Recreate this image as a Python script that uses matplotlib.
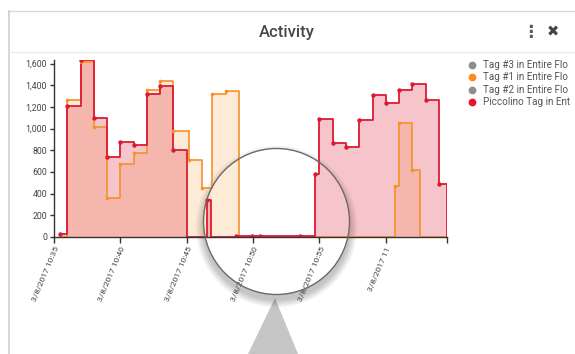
import matplotlib
matplotlib.use("Agg")
import matplotlib.pyplot as plt
import matplotlib.dates as mdates
from matplotlib.patches import Circle, Polygon
import numpy as np
import pandas as pd

plt.rcParams['font.family'] = ['Roboto', 'DejaVu Sans']

# ---------------- data ----------------
DAY = "2017-03-08 "
red_times = ["10:35:25", "10:36:00", "10:37:00", "10:38:00", "10:39:00", "10:40:00",
             "10:41:00", "10:42:00", "10:43:00", "10:44:00", "10:45:00", "10:46:30",
             "10:46:52", "10:48:41", "10:49:56", "10:50:31", "10:53:32", "10:54:40",
             "10:55:00", "10:56:00", "10:57:00", "10:58:00", "10:59:00", "11:00:00",
             "11:01:00", "11:02:00", "11:03:00", "11:04:00", "11:04:38"]
red_values = [30, 1210, 1630, 1100, 735, 875,
              850, 1315, 1395, 805, 0, 345,
              0, 5, 8, 12, 6, 585,
              1092, 871, 831, 1077, 1314, 1237,
              1354, 1415, 1268, 493, 0]

orange_times = ["10:35:25", "10:36:00", "10:37:00", "10:38:00", "10:39:00", "10:40:00",
                "10:41:00", "10:42:00", "10:43:00", "10:44:00", "10:45:09", "10:46:07",
                "10:46:55", "10:47:56", "10:48:57", "11:00:40", "11:01:00", "11:02:00",
                "11:02:35", "11:04:38"]
orange_values = [0, 1268, 1615, 1015, 360, 677,
                 775, 1360, 1437, 982, 714, 452,
                 1323, 1348, 0, 468, 1052, 615,
                 0, 0]

x_start = "10:35:00"
x_end = "11:04:38"
tick_times = ["10:35:00", "10:40:00", "10:45:00", "10:50:00", "10:55:00", "11:00:00"]
tick_labels = ["3/8/2017 10:35", "3/8/2017 10:40", "3/8/2017 10:45",
               "3/8/2017 10:50", "3/8/2017 10:55", "3/8/2017 11"]
y_ticks = [0, 200, 400, 600, 800, 1000, 1200, 1400, 1600]
y_max = 1635

# legend labels as they appear (cut off by the panel edge)
legend_names = ["Tag #3 in Entire Flo", "Tag #1 in Entire Flo",
                "Tag #2 in Entire Flo", "Piccolino Tag in Ent"]
legend_colors = ["#8e8e8e", "#ff8c1a", "#8e8e8e", "#e3162f"]
title = "Activity"

RED = "#dd1a33"
ORANGE = "#f59226"


def to_num(ts):
    return mdates.date2num(pd.to_datetime([DAY + t for t in ts]).to_pydatetime())


rt, rv = to_num(red_times), np.array(red_values, float)
ot, ov = to_num(orange_times), np.array(orange_values, float)

# ---------------- figure ----------------
W, H = 575, 354
fig = plt.figure(figsize=(W / 100, H / 100), dpi=100, facecolor="white")

# background / decoration layer in pixel coordinates
bg = fig.add_axes([0, 0, 1, 1], zorder=0)
bg.set_xlim(0, W)
bg.set_ylim(H, 0)
bg.axis("off")

# card borders
bg.plot([8, W], [11, 11], color="#d9d9d9", lw=1)
bg.plot([8.5, 8.5], [11, H], color="#cfcfcf", lw=1.2)
bg.plot([9, W], [52, 52], color="#ececec", lw=1)

bg.text(287, 32, title, ha="center", va="center", fontsize=12,
        fontweight="medium", color="#474747")
bg.text(530, 32, "\u22ee", ha="center", va="center", fontsize=12,
        fontweight="bold", color="#555555", family="DejaVu Sans")
bg.text(553, 32, "\u2716", ha="center", va="center", fontsize=10.5,
        color="#444444", family="DejaVu Sans")

# legend
for i, (name, col) in enumerate(zip(legend_names, legend_colors)):
    yy = 65 + i * 12.3
    bg.plot(472, yy, "o", ms=5.6, color=col, mec="none")
    bg.text(483, yy, name, ha="left", va="center", fontsize=7.1,
            color="#555555")

# magnifier shadow + white lens + pointer
cx, cy, cr = 276.5, 221.5, 73
for k in range(10, 0, -1):
    bg.add_patch(Circle((cx, cy + 5), cr + k * 0.8, color="#000000",
                        alpha=0.022, lw=0))
bg.add_patch(Circle((cx, cy), cr, color="white", lw=0))
bg.add_patch(Polygon([[275, 298], [248, H], [298, H]], closed=True,
                     color="#c6c6c6", lw=0, zorder=0.5))

# ---------------- chart ----------------
x0_px, x1_px = 54, 447.3
y0_px = 237
ytop_px = y0_px - y_max * (173.4 / 1600)
ax = fig.add_axes([x0_px / W, 1 - y0_px / H, (x1_px - x0_px) / W,
                   (y0_px - ytop_px) / H], zorder=1)
ax.set_facecolor("none")

ax.fill_between(ot, 0, ov, step="post", color=ORANGE, alpha=0.18, lw=0)
ax.fill_between(rt, 0, rv, step="post", color=RED, alpha=0.25, lw=0)
ax.step(ot, ov, where="post", color=ORANGE, lw=1.2)
ax.step(rt, rv, where="post", color=RED, lw=1.3)
om = ov[:-1] > 0
rm = rv[:-1] > 0
ax.plot(ot[:-1][om], ov[:-1][om], "o", ms=2.6, color=ORANGE, mec="none")
ax.plot(rt[:-1][rm], rv[:-1][rm], "o", ms=3.2, color=RED, mec="none")

ax.set_xlim(to_num([x_start])[0], to_num([x_end])[0])
ax.set_ylim(0, y_max)

for s in ["top", "right"]:
    ax.spines[s].set_visible(False)
for s in ["left", "bottom"]:
    ax.spines[s].set_color("#333333")
    ax.spines[s].set_linewidth(1)

ax.set_yticks(y_ticks)
ax.set_yticklabels([f"{v:,}" for v in y_ticks])
ax.set_xticks(to_num(tick_times))
ax.set_xticklabels(tick_labels, rotation=67, ha="right", va="top",
                   rotation_mode="anchor")
ax.set_xticks(to_num([x_end]), minor=True)
ax.tick_params(axis="both", which="both", colors="#333333", labelcolor="#444444",
               labelsize=6.3, width=1)
ax.tick_params(axis="x", labelsize=6.1)
ax.tick_params(axis="y", length=3, pad=2)
ax.tick_params(axis="x", which="both", length=4, pad=2.5)

# lens outline on top
fg = fig.add_axes([0, 0, 1, 1], zorder=2)
fg.set_xlim(0, W)
fg.set_ylim(H, 0)
fg.axis("off")
fg.add_patch(Circle((cx, cy), cr, fill=False, ec="#6a6a6a", lw=1))

fig.savefig("out.png", dpi=100, facecolor="white")
